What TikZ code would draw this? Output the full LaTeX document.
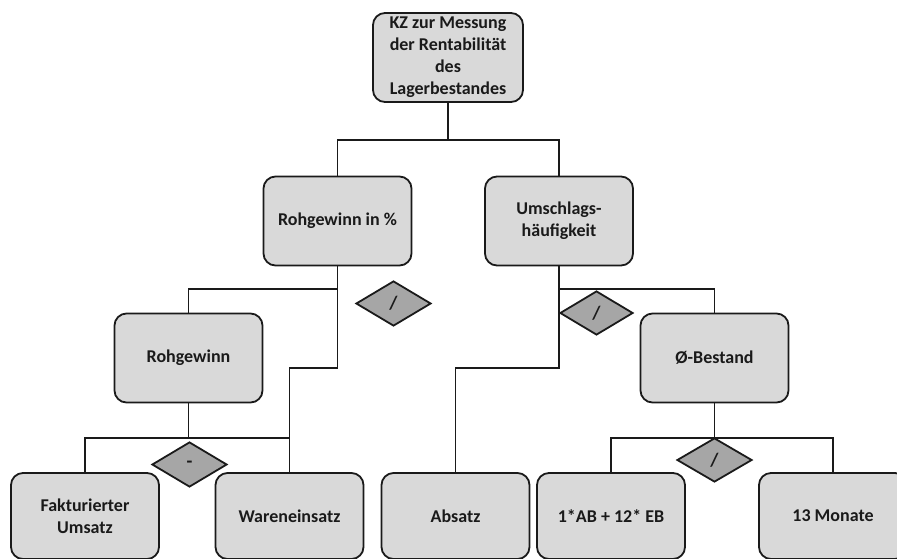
\documentclass[tikz,border=0pt]{standalone}
\usepackage{fontspec}
\setmainfont{Carlito}
\usetikzlibrary{shapes.geometric}
\definecolor{boxfill}{HTML}{D9D9D9}
\definecolor{opfill}{HTML}{A6A6A6}
\definecolor{ink}{HTML}{1A1A1A}
\begin{document}
\begin{tikzpicture}[x=1pt,y=-1pt,
  kzbox/.style={draw=ink, fill=boxfill, line width=1.8pt, rounded corners=12pt,
    rectangle, minimum width=148pt, minimum height=89pt, inner sep=2pt,
    align=center, font=\fontsize{18}{22}\selectfont\bfseries, text=ink},
  opdiamond/.style={draw=ink, fill=opfill, line width=1.8pt, diamond, aspect=1.67,
    minimum width=75pt, minimum height=45pt, inner sep=0pt,
    font=\fontsize{19}{20}\selectfont\bfseries, text=ink},
  link/.style={draw=ink, line width=1.8pt}]
\useasboundingbox (0,0) rectangle (897,558);
\clip (0,0) rectangle (897,558);

% boxes of the key figure tree
\node[kzbox, minimum width=150pt] (top) at (448,57.5) {KZ zur Messung\\der Rentabilität\\des\\Lagerbestandes};
\node[kzbox] (rip) at (337.5,221) {Rohgewinn in \%};
\node[kzbox] (um) at (559,221) {Umschlags-\\häufigkeit};
\node[kzbox] (rg) at (188.5,358) {Rohgewinn};
\node[kzbox] (bst) at (714.5,358) {Ø-Bestand};
\node[kzbox, minimum height=86pt] (fu) at (85,516) {Fakturierter\\Umsatz};
\node[kzbox, minimum height=86pt] (we) at (289.5,516) {Wareneinsatz};
\node[kzbox, minimum height=86pt] (ab) at (455.5,516) {Absatz};
\node[kzbox, minimum height=86pt] (ab12) at (611,516) {1*AB + 12* EB};
\node[kzbox, minimum height=86pt] (mon) at (833,516) {13 Monate};

% junction points
\coordinate (j0) at (448,140);
\coordinate (j1) at (337.5,289);
\coordinate (k1) at (289.5,368);
\coordinate (j2) at (188.5,438);
\coordinate (j3) at (559,289);
\coordinate (k2) at (455.5,368);
\coordinate (j4) at (714.5,438);

% connectors
\draw[link] (top.south) -- (j0);
\draw[link] (rip.north) |- (j0) -| (um.north);
\draw[link] (rg.north) |- (j1);
\draw[link] (rip.south) |- (k1) -- (we.north);
\draw[link] (rg.south) -- (j2);
\draw[link] (fu.north) |- (j2) -| (we.north);
\draw[link] (j3) -| (bst.north);
\draw[link] (um.south) |- (k2) -- (ab.north);
\draw[link] (bst.south) -- (j4);
\draw[link] (ab12.north) |- (j4) -| (mon.north);

% operators
\node[opdiamond] (d1) at (393.5,303.5) {/};
\node[opdiamond, minimum width=73pt, minimum height=44pt] (d2) at (596.5,313) {/};
\node[opdiamond] (d3) at (189.5,464.5) {-};
\node[opdiamond, minimum height=44pt] (d4) at (714.5,460) {/};
\end{tikzpicture}
\end{document}
